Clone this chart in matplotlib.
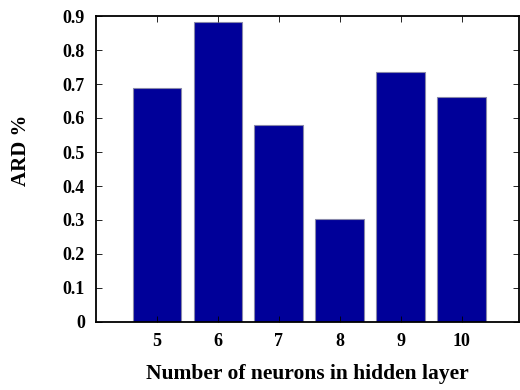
import matplotlib
matplotlib.use('Agg')
import matplotlib.pyplot as plt

# Datos
neuronas = [5, 6, 7, 8, 9, 10]
ard = [0.689, 0.882, 0.58, 0.303, 0.736, 0.661]
yticks = [0, 0.1, 0.2, 0.3, 0.4, 0.5, 0.6, 0.7, 0.8, 0.9]

plt.rcParams['font.family'] = 'Liberation Serif'
plt.rcParams['font.weight'] = 'bold'

fig = plt.figure(figsize=(5.2, 3.9), dpi=100)
ax = fig.add_axes([96 / 520, 68 / 390, 423 / 520, 306 / 390])

ax.bar(neuronas, ard, width=0.8, color='#000099', edgecolor='#8888aa', linewidth=0.8)

ax.set_xlim(4, 10.94)
ax.set_ylim(0, 0.9)
ax.set_xticks(neuronas)
ax.set_yticks(yticks)
ax.set_yticklabels(['0' if v == 0 else f'{v:.1f}' for v in yticks])
ax.tick_params(direction='in', top=True, right=True, labelsize=13, length=4, width=0.6, pad=8)
for lbl in ax.get_xticklabels() + ax.get_yticklabels():
    lbl.set_fontweight('bold')
for s in ax.spines.values():
    s.set_linewidth(1.3)

ax.set_xlabel('Number of neurons in hidden layer', fontsize=15.5, fontweight='bold')
ax.xaxis.set_label_coords(0.5, -0.137)
ax.set_ylabel('ARD %', fontsize=15, fontweight='bold')
ax.yaxis.set_label_coords(-0.153, 0.56)

fig.savefig('out.png', dpi=100)
